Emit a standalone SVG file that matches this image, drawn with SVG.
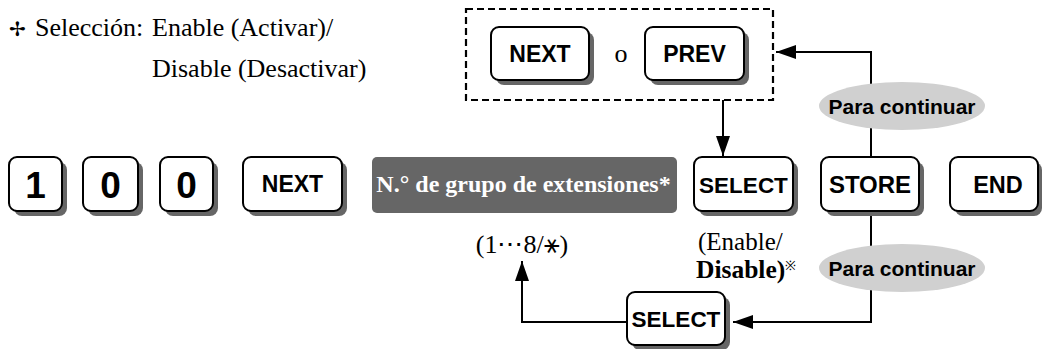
<svg xmlns="http://www.w3.org/2000/svg" width="1044" height="349" viewBox="0 0 1044 349">
<style>
.sh{fill:#666}
.btn{fill:#fff;stroke:#000;stroke-width:2}
.bt{font-family:"Liberation Sans",Arial,sans-serif;font-weight:bold;fill:#000;text-anchor:middle}
.tm{font-family:"Liberation Serif","Times New Roman",serif;fill:#000}
.ln{fill:none;stroke:#000;stroke-width:2}
.ell{fill:#d0d0d0}
</style>
<defs>
<marker id="ah" markerWidth="20" markerHeight="14" refX="20" refY="7" orient="auto" markerUnits="userSpaceOnUse">
<path d="M0,0 L20,7 L0,14 Z" fill="#000"/>
</marker>
</defs>
<rect width="1044" height="349" fill="#fff"/>

<g id="note">
<text class="tm" x="9" y="36" font-size="20">✢</text>
<text class="tm" x="35" y="36" font-size="26">Selección:</text>
<text class="tm" x="152" y="36" font-size="26">Enable (Activar)/</text>
<text class="tm" x="152" y="77" font-size="26">Disable (Desactivar)</text>
</g>

<g id="connectors">
<path class="ln" d="M723,100 V156" marker-end="url(#ah)"/>
<path class="ln" d="M871,157 V52 H776" marker-end="url(#ah)"/>
<path class="ln" d="M871,213 V322 H733" marker-end="url(#ah)"/>
<path class="ln" d="M627,322 H522 V261" marker-end="url(#ah)"/>
</g>

<g id="choice">
<rect x="466" y="9" width="307" height="91" fill="none" stroke="#000" stroke-width="2.2" stroke-dasharray="7,4"/>
<text class="tm" x="621" y="62" font-size="26" text-anchor="middle">o</text>
</g>
<g id="next-top">
<rect class="sh" x="496" y="32" width="98" height="53" rx="8"/>
<rect class="btn" x="491" y="27" width="98" height="53" rx="8"/>
<text class="bt" x="540" y="61.5" font-size="23">NEXT</text>
</g>
<g id="prev">
<rect class="sh" x="650" y="32" width="99" height="53" rx="8"/>
<rect class="btn" x="645" y="27" width="99" height="53" rx="8"/>
<text class="bt" x="694.5" y="61.5" font-size="23">PREV</text>
</g>

<g id="cont-top">
<ellipse class="ell" cx="902" cy="106" rx="83" ry="24"/>
<text class="bt" x="902" y="113.5" font-size="21">Para continuar</text>
</g>
<g id="cont-bottom">
<ellipse class="ell" cx="902" cy="268" rx="83" ry="24"/>
<text class="bt" x="902" y="275.5" font-size="21">Para continuar</text>
</g>

<g id="key-1">
<rect class="sh" x="14" y="162" width="53" height="54" rx="8"/>
<rect class="btn" x="9" y="157" width="53" height="54" rx="8"/>
<text class="bt" x="35.5" y="198" font-size="37">1</text>
</g>
<g id="key-0a">
<rect class="sh" x="88" y="162" width="55" height="54" rx="8"/>
<rect class="btn" x="83" y="157" width="55" height="54" rx="8"/>
<text class="bt" x="110.5" y="198" font-size="37">0</text>
</g>
<g id="key-0b">
<rect class="sh" x="165" y="162" width="53" height="54" rx="8"/>
<rect class="btn" x="160" y="157" width="53" height="54" rx="8"/>
<text class="bt" x="186.5" y="198" font-size="37">0</text>
</g>
<g id="next">
<rect class="sh" x="248" y="162" width="99" height="54" rx="8"/>
<rect class="btn" x="243" y="157" width="99" height="54" rx="8"/>
<text class="bt" x="292.5" y="192" font-size="23">NEXT</text>
</g>
<g id="group-no">
<rect x="372" y="157" width="305" height="56" rx="5" fill="#666"/>
<text x="523.5" y="192" font-size="24" font-weight="bold" fill="#fff" text-anchor="middle" font-family="'Liberation Serif','Times New Roman',serif">N.° de grupo de extensiones*</text>
</g>
<g id="select-top">
<rect class="sh" x="699" y="162" width="99" height="54" rx="8"/>
<rect class="btn" x="694" y="157" width="99" height="54" rx="8"/>
<text class="bt" x="743.5" y="192.5" font-size="22.5">SELECT</text>
</g>
<g id="store">
<rect class="sh" x="826" y="162" width="98" height="54" rx="8"/>
<rect class="btn" x="821" y="157" width="98" height="54" rx="8"/>
<text class="bt" x="870" y="192.5" font-size="24">STORE</text>
</g>
<g id="end">
<rect class="sh" x="955" y="162" width="87" height="54" rx="8"/>
<rect class="btn" x="950" y="157" width="88" height="54" rx="8"/>
<text class="bt" x="998" y="192.5" font-size="23.5">END</text>
</g>

<g id="labels">
<text class="tm" x="522" y="253" font-size="26" text-anchor="middle">(1⋯8/⚹)</text>
<text class="tm" x="698" y="250" font-size="25">(Enable/</text>
<text class="tm" x="696" y="278" font-size="25.5" font-weight="bold">Disable)<tspan font-size="13" font-weight="normal" dy="-8">※</tspan></text>
</g>

<g id="select-bottom">
<rect class="sh" x="632" y="297" width="98" height="53" rx="8"/>
<rect class="btn" x="627" y="292" width="98" height="53" rx="8"/>
<text class="bt" x="676" y="327" font-size="22.5">SELECT</text>
</g>
</svg>
